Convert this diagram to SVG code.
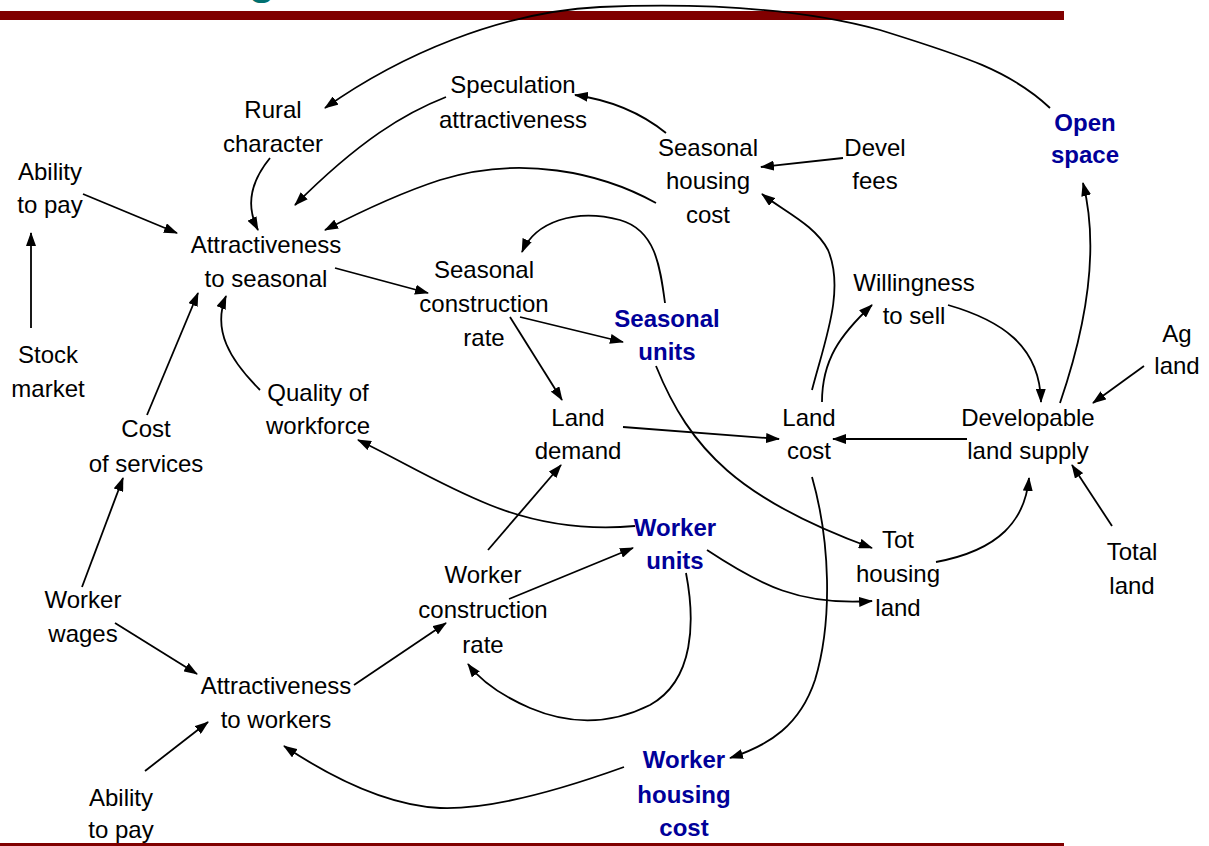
<svg xmlns="http://www.w3.org/2000/svg" width="1209" height="846" viewBox="0 0 1209 846">
<style>
text{font-family:"Liberation Sans",Arial,sans-serif;font-size:24px;fill:#000;text-anchor:middle}
.b{font-weight:bold;fill:#000099}
.c{fill:none;stroke:#000;stroke-width:1.8}
</style>
<defs>
<marker id="ah" viewBox="0 0 14 10" refX="13" refY="5" markerWidth="14" markerHeight="10" markerUnits="userSpaceOnUse" orient="auto">
<path d="M0,0 L14,5 L0,10 z" fill="#000"/>
</marker>
</defs>
<rect width="1209" height="846" fill="#fff"/>
<text x="262" y="-6" style="font-size:44px;font-weight:bold;fill:#007070">g</text>
<rect x="0" y="11" width="1064" height="9" fill="#800000"/>
<rect x="0" y="843" width="1064" height="3" fill="#800000"/>

<g id="connectors" class="c" marker-end="url(#ah)">
<path d="M1050,108 C1010,70 960,55 880,30 C800,8 700,3 600,7 C500,12 400,55 325,108"/>
<path d="M446,97 C405,113 360,140 295,205"/>
<path d="M270,158 C252,180 245,205 258,230"/>
<path d="M83,194 L177,233"/>
<path d="M31,328 L31,233"/>
<path d="M656,203 C600,172 520,155 440,180 C400,193 360,212 325,230"/>
<path d="M666,133 C640,112 610,100 575,95"/>
<path d="M843,158 L761,167"/>
<path d="M812,390 C825,340 845,290 828,250 C815,225 785,212 762,194"/>
<path d="M665,303 C660,265 655,230 620,220 C575,208 535,222 522,252"/>
<path d="M335,268 L428,293"/>
<path d="M520,317 L623,342"/>
<path d="M510,317 L562,400"/>
<path d="M656,366 C690,450 740,500 872,548"/>
<path d="M623,427 L779,439"/>
<path d="M967,439 L833,439"/>
<path d="M822,402 C822,360 840,335 872,305"/>
<path d="M948,305 C1000,320 1040,345 1041,402"/>
<path d="M1060,403 C1085,330 1100,250 1083,183"/>
<path d="M1144,366 L1093,403"/>
<path d="M1112,526 L1072,465"/>
<path d="M936,562 C1000,550 1025,520 1029,478"/>
<path d="M812,477 C830,540 833,620 815,680 C800,725 770,745 730,758"/>
<path d="M635,526 C590,530 540,525 490,505 C440,485 400,460 358,440"/>
<path d="M260,390 C230,360 212,330 226,296"/>
<path d="M147,415 L198,293"/>
<path d="M82,587 L123,478"/>
<path d="M115,623 L197,674"/>
<path d="M145,771 L208,722"/>
<path d="M354,685 L446,623"/>
<path d="M488,550 L561,465"/>
<path d="M509,599 L633,548"/>
<path d="M707,550 C760,585 800,606 872,601"/>
<path d="M686,573 C695,620 695,680 650,705 C610,725 570,725 530,708 C500,695 480,680 468,664"/>
<path d="M624,767 C560,790 490,810 440,808 C380,805 320,770 284,746"/>
</g>

<g id="rural"><text x="273" y="118">Rural</text><text x="273" y="152">character</text></g>
<g id="speculation"><text x="513" y="93">Speculation</text><text x="513" y="128">attractiveness</text></g>
<g id="ability1"><text x="50" y="180">Ability</text><text x="50" y="213">to pay</text></g>
<g id="attr_seasonal"><text x="266" y="253">Attractiveness</text><text x="266" y="287">to seasonal</text></g>
<g id="stock"><text x="48" y="363">Stock</text><text x="48" y="397">market</text></g>
<g id="cost_services"><text x="146" y="437">Cost</text><text x="146" y="472">of services</text></g>
<g id="quality"><text x="318" y="401">Quality of</text><text x="318" y="434">workforce</text></g>
<g id="seas_constr"><text x="484" y="278">Seasonal</text><text x="484" y="312">construction</text><text x="484" y="346">rate</text></g>
<g id="seas_units"><text class="b" x="667" y="327">Seasonal</text><text class="b" x="667" y="360">units</text></g>
<g id="land_demand"><text x="578" y="426">Land</text><text x="578" y="459">demand</text></g>
<g id="land_cost"><text x="809" y="426">Land</text><text x="809" y="459">cost</text></g>
<g id="dev_land"><text x="1028" y="426">Developable</text><text x="1028" y="459">land supply</text></g>
<g id="willing"><text x="914" y="291">Willingness</text><text x="914" y="324">to sell</text></g>
<g id="ag_land"><text x="1177" y="342">Ag</text><text x="1177" y="374">land</text></g>
<g id="tot_housing"><text x="898" y="548">Tot</text><text x="898" y="582">housing</text><text x="898" y="616">land</text></g>
<g id="total_land"><text x="1132" y="560">Total</text><text x="1132" y="594">land</text></g>
<g id="worker_units"><text class="b" x="675" y="536">Worker</text><text class="b" x="675" y="569">units</text></g>
<g id="worker_constr"><text x="483" y="583">Worker</text><text x="483" y="618">construction</text><text x="483" y="653">rate</text></g>
<g id="worker_wages"><text x="83" y="608">Worker</text><text x="83" y="642">wages</text></g>
<g id="attr_workers"><text x="276" y="694">Attractiveness</text><text x="276" y="728">to workers</text></g>
<g id="ability2"><text x="121" y="806">Ability</text><text x="121" y="838">to pay</text></g>
<g id="worker_housing"><text class="b" x="684" y="768">Worker</text><text class="b" x="684" y="803">housing</text><text class="b" x="684" y="836">cost</text></g>
<g id="seas_housing"><text x="708" y="156">Seasonal</text><text x="708" y="189">housing</text><text x="708" y="223">cost</text></g>
<g id="devel_fees"><text x="875" y="156">Devel</text><text x="875" y="189">fees</text></g>
<g id="open_space"><text class="b" x="1085" y="131">Open</text><text class="b" x="1085" y="163">space</text></g>
</svg>
